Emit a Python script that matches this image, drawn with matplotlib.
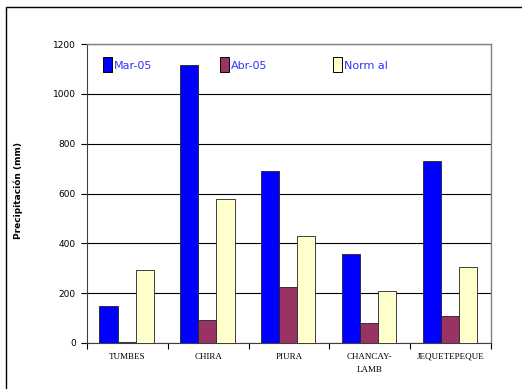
import numpy as np
import matplotlib.pyplot as plt
from matplotlib.patches import Rectangle

cuencas = ["TUMBES", "CHIRA", "PIURA", "CHANCAY-\nLAMB", "JEQUETEPEQUE"]
mar_05 = [148, 1115, 691, 357, 729]
abr_05 = [5, 92, 223, 79, 110]
normal = [292, 578, 430, 209, 306]
series_names = ["Mar-05", "Abr-05", "Norm al"]
yticks = [0, 200, 400, 600, 800, 1000, 1200]

colors = ["#0000FF", "#993366", "#FFFFCC"]

fig = plt.figure(figsize=(5.22, 3.89), dpi=100)
fig.patches.append(Rectangle((6 / 522, -0.1), 1.2, 1 - 7 / 389 + 0.1,
                             transform=fig.transFigure, fill=False,
                             edgecolor="black", linewidth=1.0))
ax = fig.add_axes([87 / 522, 46 / 389, 404 / 522, 299 / 389])

x = np.arange(len(cuencas))
w = 0.224
for i, (vals, c) in enumerate(zip([mar_05, abr_05, normal], colors)):
    ax.bar(x + (i - 1) * w - 0.01, vals, width=w, color=c, edgecolor="#222222",
           linewidth=0.6, zorder=3)

ax.set_xlim(-0.5, len(cuencas) - 0.5)
ax.set_ylim(0, 1200)
ax.set_yticks(yticks)
ax.set_yticklabels([str(v) for v in yticks], fontsize=6.5)
ax.yaxis.grid(True, color="black", linewidth=0.8, zorder=0)

ax.set_xticks(np.arange(len(cuencas) + 1) - 0.5)
ax.set_xticklabels([])
ax.set_xticks(x, minor=True)
ax.set_xticklabels(cuencas, minor=True, fontsize=6.5, family="Liberation Serif",
                   linespacing=1.8, va="top")
ax.tick_params(axis="x", which="minor", length=0, pad=7)
ax.tick_params(axis="x", which="major", length=4, width=0.8, direction="out")
ax.tick_params(axis="y", length=4, width=0.8, pad=4)

for s in ["top", "right"]:
    ax.spines[s].set_color("#808080")
    ax.spines[s].set_linewidth(1.0)
ax.spines["left"].set_color("#404040")
ax.spines["bottom"].set_color("#404040")

ax.set_ylabel("Precipitación (mm)", fontsize=6.5, fontweight="bold")
ax.yaxis.set_label_coords(-0.158, 0.51)

# legend entries placed inside the plot area
leg_x = [0.04, 0.33, 0.61]
for lx, name, c in zip(leg_x, series_names, colors):
    ax.add_patch(Rectangle((lx, 0.905), 0.022, 0.05, transform=ax.transAxes,
                           facecolor=c, edgecolor="black", linewidth=0.7,
                           zorder=5))
    ax.text(lx + 0.027, 0.928, name, transform=ax.transAxes, color="#3333FF",
            fontsize=8, va="center", ha="left", zorder=5)

fig.savefig("out.png", dpi=100)
